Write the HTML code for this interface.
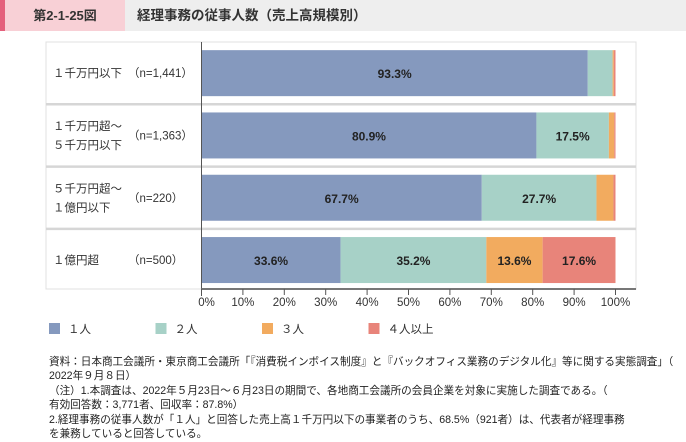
<!DOCTYPE html>
<html><head><meta charset="utf-8">
<style>
body{margin:0;width:686px;height:439px;background:#fff;font-family:"Liberation Sans","Noto Sans CJK JP",sans-serif;color:#222;position:relative;overflow:hidden}
.hdr{position:absolute;left:0;top:0;width:686px;height:31px;background:#eeeeee}
.hdr .strip{position:absolute;left:0;top:0;width:5px;height:31px;background:#e4607c}
.hdr .num{position:absolute;left:5px;top:0;width:120px;height:31px;background:#f8d0d6;font-size:13px;line-height:31px;text-align:center;font-weight:bold;color:#333}
.hdr .ttl{position:absolute;left:137px;top:0;line-height:31px;font-size:13.5px;font-weight:bold;color:#333}
.note{position:absolute;left:49px;font-size:10.6px;line-height:14.3px;white-space:nowrap}
</style></head><body>
<div class="hdr">
<div class="strip"></div>
<div class="num">第2-1-25図</div>
<div class="ttl">経理事務の従事人数（売上高規模別）</div>
</div>
<svg id="chart" width="686" height="350" style="position:absolute;left:0;top:0"></svg>
<div class="note" style="top:355px">資料：日本商工会議所・東京商工会議所「『消費税インボイス制度』と『バックオフィス業務のデジタル化』等に関する実態調査」（<br>2022年９月８日）</div>
<div class="note" style="top:384px">（注）1.本調査は、2022年５月23日～６月23日の期間で、各地商工会議所の会員企業を対象に実施した調査である。（<br>有効回答数：3,771者、回収率：87.8%）</div>
<div class="note" style="top:413px">2.経理事務の従事人数が「１人」と回答した売上高１千万円以下の事業者のうち、68.5%（921者）は、代表者が経理事務<br>を兼務していると回答している。</div>
<script>
const categories=[["１千万円以下"],["１千万円超～","５千万円以下"],["５千万円超～","１億円以下"],["１億円超"]];
const nLabels=["（n=1,441）","（n=1,363）","（n=220）","（n=500）"];
const series1=[93.3,80.9,67.7,33.6];
const series2=[6.0,17.5,27.7,35.2];
const series3=[0.3,1.3,4.1,13.6];
const series4=[0.4,0.3,0.5,17.6];
const seriesNames=["１人","２人","３人","４人以上"];
const ticks=[0,10,20,30,40,50,60,70,80,90,100];
const colors=["#8599be","#a7d1c7","#f2ab5f","#e8847a"];
const svg=document.getElementById('chart');
const NS='http://www.w3.org/2000/svg';
function mk(t,a,p){const e=document.createElementNS(NS,t);for(const k in a)e.setAttribute(k,a[k]);(p||svg).appendChild(e);return e;}
const x0=201.5,x1=615.5;
const xs=v=>x0+(x1-x0)*v/100;
const rowTop=42,rowH=62.3;
const rowY=i=>rowTop+i*rowH;
let e=mk('rect',{x:46,y:42,width:590,height:247,fill:'none',stroke:'#e0e0e0','stroke-width':1});

for(let i=1;i<4;i++){e=mk('line',{x1:46,x2:636,y1:rowY(i),y2:rowY(i),stroke:'#d6d6d6','stroke-width':2.5});
}
const all=[series1,series2,series3,series4];
categories.forEach((c,i)=>{
 const yc=rowY(i)+rowH/2;
 const g=mk('g',{});
 c.forEach((ln,j)=>{const t=mk('text',{x:53,y:yc+4+(j-(c.length-1)/2)*19,'font-size':11.5,fill:'#333'},g);t.textContent=ln;
  });
 const t=mk('text',{x:128,y:yc+4,'font-size':11.5,fill:'#333'},g);t.textContent=nLabels[i];
 
 let acc=0;
 all.forEach((s,k)=>{const v=s[i];
  const r=mk('rect',{x:xs(acc),y:yc-23,width:xs(acc+v)-xs(acc),height:46,fill:colors[k]},g);
  
  if(v>=10){const l=mk('text',{x:(xs(acc)+xs(acc+v))/2,y:yc+5,'font-size':12,'font-weight':'bold','text-anchor':'middle',fill:'#222'},g);
   l.textContent=v.toFixed(1)+'%';}
  acc+=v;});
});
e=mk('line',{x1:x0,x2:x0,y1:42,y2:296,stroke:'#555','stroke-width':1});

e=mk('line',{x1:x0,x2:636,y1:289,y2:289,stroke:'#777','stroke-width':2});

ticks.forEach(v=>{e=mk('line',{x1:xs(v),x2:xs(v),y1:289,y2:295,stroke:'#555'});
 
 const t=mk('text',{x:xs(v)+(v===0?5:0),y:306,'font-size':11.5,'text-anchor':'middle',fill:'#333'});t.textContent=v+'%';
 });
seriesNames.forEach((n,k)=>{const lx=49+k*106.5;
 const g=mk('g',{});
 mk('rect',{x:lx,y:323,width:11,height:11,fill:colors[k]},g);
 const t=mk('text',{x:lx+19,y:333,'font-size':11.5,fill:'#333'},g);t.textContent=n;});
</script>
</body></html>
